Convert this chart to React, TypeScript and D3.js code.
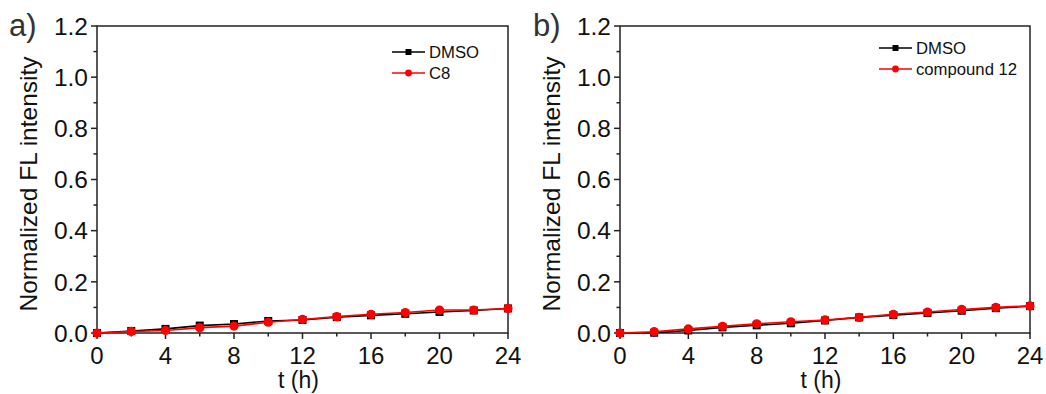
import React from "react";
import * as d3 from "d3";

const times = [0, 2, 4, 6, 8, 10, 12, 14, 16, 18, 20, 22, 24];
const dmsoA = [0, 0.008, 0.016, 0.029, 0.035, 0.047, 0.051, 0.062, 0.069, 0.075, 0.082, 0.088, 0.096];
const c8A = [0, 0.006, 0.01, 0.021, 0.027, 0.042, 0.053, 0.064, 0.073, 0.08, 0.09, 0.09, 0.096];
const dmsoB = [0, 0.001, 0.01, 0.022, 0.03, 0.038, 0.049, 0.061, 0.07, 0.078, 0.087, 0.097, 0.105];
const c12B = [0, 0.005, 0.016, 0.026, 0.036, 0.044, 0.051, 0.061, 0.073, 0.082, 0.092, 0.1, 0.106];
const xTicks = [0, 4, 8, 12, 16, 20, 24];
const xMinor = [2, 6, 10, 14, 18, 22];
const yTicks = [0, 0.2, 0.4, 0.6, 0.8, 1.0, 1.2];
const yMinor = [0.1, 0.3, 0.5, 0.7, 0.9, 1.1];

const FONT = "Liberation Sans, Arial, sans-serif";

type PanelProps = {
  left: number;
  right: number;
  label: string;
  labelX: number;
  s1: number[];
  s2: number[];
  name2: string;
  legX: number;
  legY: number;
};

function Panel({ left, right, label, labelX, s1, s2, name2, legX, legY }: PanelProps) {
  const top = 26;
  const bottom = 333;
  const x = d3.scaleLinear().domain([0, 24]).range([left, right]);
  const y = d3.scaleLinear().domain([0, 1.2]).range([bottom, top]);
  const line = d3
    .line<number>()
    .x((_, i) => x(times[i]))
    .y((d) => y(d));
  return (
    <g>
      <text x={labelX} y={36} fontFamily={FONT} fontSize={31} fill="#333">
        {label}
      </text>
      <rect x={left} y={top} width={right - left} height={bottom - top} fill="none" stroke="#222" strokeWidth={1.5} />
      {xTicks.map((t) => (
        <g key={"xt" + t}>
          <line x1={x(t)} x2={x(t)} y1={bottom} y2={bottom + 6} stroke="#222" strokeWidth={1.5} />
          <text x={x(t)} y={364} textAnchor="middle" fontFamily={FONT} fontSize={24} fill="#111">
            {t}
          </text>
        </g>
      ))}
      {xMinor.map((t) => (
        <line key={"xm" + t} x1={x(t)} x2={x(t)} y1={bottom} y2={bottom + 3.5} stroke="#222" strokeWidth={1.5} />
      ))}
      {yTicks.map((t) => (
        <g key={"yt" + t}>
          <line x1={left - 6} x2={left} y1={y(t)} y2={y(t)} stroke="#222" strokeWidth={1.5} />
          <text x={left - 9} y={y(t) + 8.7} textAnchor="end" fontFamily={FONT} fontSize={24.5} fill="#111">
            {t.toFixed(1)}
          </text>
        </g>
      ))}
      {yMinor.map((t) => (
        <line key={"ym" + t} x1={left - 3.5} x2={left} y1={y(t)} y2={y(t)} stroke="#222" strokeWidth={1.5} />
      ))}
      <text
        transform={`translate(${left - 60},184) rotate(-90)`}
        textAnchor="middle"
        fontFamily={FONT}
        fontSize={24.5}
        fill="#111"
      >
        Normalized FL intensity
      </text>
      <text x={(left + right) / 2 - 4} y={388} textAnchor="middle" fontFamily={FONT} fontSize={23} fill="#111">
        t (h)
      </text>
      <path d={line(s1) || ""} fill="none" stroke="#000" strokeWidth={1.6} />
      {s1.map((v, i) => (
        <rect key={"s" + i} x={x(times[i]) - 4} y={y(v) - 4} width={8} height={8} fill="#000" />
      ))}
      <path d={line(s2) || ""} fill="none" stroke="#f00" strokeWidth={1.6} />
      {s2.map((v, i) => (
        <circle key={"c" + i} cx={x(times[i])} cy={y(v)} r={4.6} fill="#f00" />
      ))}
      <g>
        <line x1={legX} x2={legX + 33} y1={legY} y2={legY} stroke="#000" strokeWidth={1.3} />
        <rect x={legX + 16.5 - 3} y={legY - 3} width={6} height={6} fill="#000" />
        <text x={legX + 37} y={legY + 6} fontFamily={FONT} fontSize={16.7} fill="#111">
          DMSO
        </text>
        <line x1={legX} x2={legX + 33} y1={legY + 21} y2={legY + 21} stroke="#f00" strokeWidth={1.3} />
        <circle cx={legX + 16.5} cy={legY + 21} r={3.4} fill="#f00" />
        <text x={legX + 37} y={legY + 27} fontFamily={FONT} fontSize={16.7} fill="#111">
          {name2}
        </text>
      </g>
    </g>
  );
}

export default function App() {
  return (
    <svg width={1046} height={394} style={{ display: "block", position: "absolute", left: 0, top: 0 }}>
      <rect x={0} y={0} width={1046} height={394} fill="#fff" />
      <Panel left={97} right={508} label="a)" labelX={9} s1={dmsoA} s2={c8A} name2="C8" legX={392} legY={52} />
      <Panel left={620} right={1030} label="b)" labelX={533} s1={dmsoB} s2={c12B} name2="compound 12" legX={879} legY={48} />
    </svg>
  );
}
